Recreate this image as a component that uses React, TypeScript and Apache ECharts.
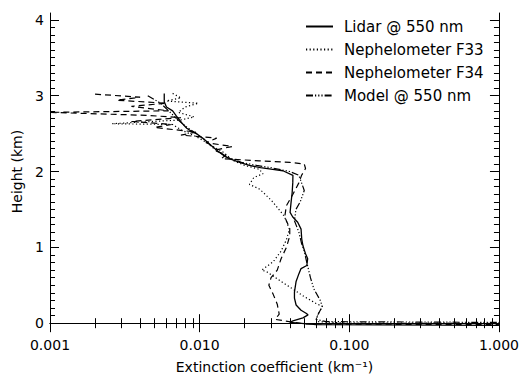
import React, { useEffect, useRef } from "react";
import * as echarts from "echarts";

// Heights (km) and extinction coefficients (km^-1)
const lidarH = [3.03, 2.92, 2.85, 2.80, 2.73, 2.64, 2.57, 2.53, 2.50, 2.42, 2.34, 2.27, 2.20, 2.16, 2.12, 2.08, 2.05, 2.03, 2.01, 1.95, 1.85, 1.72, 1.59, 1.46, 1.40, 1.33, 1.24, 1.11, 1.02, 0.92, 0.85, 0.76, 0.72, 0.65, 0.55, 0.41, 0.33, 0.24, 0.17, 0.13, 0.11, 0.07, 0.03, 0.01, -0.02, -0.03];
const lidarX = [0.0058, 0.0058, 0.0060, 0.0066, 0.0070, 0.0076, 0.0082, 0.0088, 0.0095, 0.0108, 0.0120, 0.0132, 0.0147, 0.0163, 0.0185, 0.0215, 0.0255, 0.030, 0.036, 0.042, 0.0419, 0.0415, 0.0408, 0.0402, 0.0419, 0.0452, 0.0476, 0.0481, 0.049, 0.0509, 0.0527, 0.052, 0.0476, 0.046, 0.0441, 0.043, 0.043, 0.0441, 0.0476, 0.0514, 0.053, 0.049, 0.042, 0.040, 0.06, 1.0];

const f33H = [3.03, 2.97, 2.93, 2.90, 2.85, 2.78, 2.72, 2.68, 2.63, 2.62, 2.55, 2.45, 2.35, 2.25, 2.15, 2.08, 2.03, 1.97, 1.92, 1.83, 1.77, 1.73, 1.60, 1.41, 1.24, 1.10, 0.95, 0.81, 0.70, 0.68, 0.55, 0.45, 0.35, 0.26, 0.22, 0.12, 0.05, 0.02, 0.0, 0.0];
const f33X = [0.0066, 0.0075, 0.0060, 0.0098, 0.0080, 0.0072, 0.0092, 0.0075, 0.0026, 0.0066, 0.0075, 0.0097, 0.0118, 0.0145, 0.0165, 0.0200, 0.0250, 0.0265, 0.0230, 0.0215, 0.0250, 0.0264, 0.0308, 0.0368, 0.0398, 0.038, 0.035, 0.031, 0.026, 0.028, 0.035, 0.042, 0.050, 0.060, 0.066, 0.062, 0.060, 0.062, 0.1, 1.0];

const f34H = [3.02, 2.98, 2.94, 2.90, 2.86, 2.80, 2.78, 2.74, 2.71, 2.66, 2.62, 2.58, 2.52, 2.48, 2.44, 2.38, 2.33, 2.28, 2.22, 2.17, 2.14, 2.12, 2.10, 2.04, 1.95, 1.85, 1.70, 1.55, 1.40, 1.25, 1.15, 1.00, 0.85, 0.70, 0.60, 0.50, 0.38, 0.25, 0.12, 0.05, -0.01, -0.02];
const f34X = [0.0020, 0.0040, 0.0028, 0.0060, 0.0035, 0.0062, 0.0010, 0.0045, 0.0075, 0.0035, 0.0065, 0.0050, 0.0095, 0.0075, 0.0130, 0.0110, 0.0165, 0.0125, 0.0150, 0.0140, 0.0250, 0.0400, 0.0500, 0.0510, 0.0480, 0.0460, 0.0420, 0.0380, 0.0370, 0.0400, 0.0400, 0.0380, 0.0350, 0.0330, 0.0300, 0.0290, 0.0310, 0.0330, 0.0340, 0.0320, 0.05, 1.0];

const modelH = [3.0, 2.9, 2.8, 2.7, 2.6, 2.5, 2.4, 2.3, 2.2, 2.12, 2.08, 2.05, 2.0, 1.95, 1.85, 1.75, 1.6, 1.5, 1.35, 1.2, 1.05, 0.95, 0.8, 0.6, 0.45, 0.3, 0.22, 0.12, 0.05, 0.02, 0.01];
const modelX = [0.0045, 0.0055, 0.0062, 0.0070, 0.0080, 0.0095, 0.0110, 0.0125, 0.0150, 0.019, 0.024, 0.030, 0.040, 0.046, 0.048, 0.050, 0.047, 0.044, 0.043, 0.046, 0.048, 0.050, 0.052, 0.055, 0.058, 0.064, 0.066, 0.062, 0.060, 0.070, 1.0];

const seriesNames = ["Lidar @ 550 nm", "Nephelometer F33", "Nephelometer F34", "Model @ 550 nm"];
const xMajorTicks = [0.001, 0.01, 0.1, 1];
const xMinorTicks = [0.002, 0.003, 0.004, 0.005, 0.006, 0.007, 0.008, 0.009, 0.02, 0.03, 0.04, 0.05, 0.06, 0.07, 0.08, 0.09, 0.2, 0.3, 0.4, 0.5, 0.6, 0.7, 0.8, 0.9];
const yMajorTicks = [0, 1, 2, 3, 4];
const yMinorTicks = [0.1, 0.2, 0.3, 0.4, 0.5, 0.6, 0.7, 0.8, 0.9, 1.1, 1.2, 1.3, 1.4, 1.5, 1.6, 1.7, 1.8, 1.9, 2.1, 2.2, 2.3, 2.4, 2.5, 2.6, 2.7, 2.8, 2.9, 3.1, 3.2, 3.3, 3.4, 3.5, 3.6, 3.7, 3.8, 3.9];

const FONT = "DejaVu Sans";

function pairs(xs: number[], hs: number[]) {
  return xs.map((x, i) => [x, hs[i]]);
}

export default function App() {
  const ref = useRef<HTMLDivElement>(null);
  useEffect(() => {
    if (!ref.current) return;
    const chart = echarts.init(ref.current, null, { renderer: "svg" });
    const axLine = { show: true, lineStyle: { color: "#000", width: 1 } };
    const xBase = (pos: string, ticks: number[], len: number, labels: boolean, line: boolean, extra: any = {}) => ({
      type: "log",
      logBase: 10,
      min: 0.001,
      max: 1,
      position: pos,
      axisLine: line ? axLine : { show: false },
      splitLine: { show: false },
      minorTick: { show: false },
      axisTick: { show: true, inside: true, length: len, customValues: ticks, lineStyle: { color: "#000", width: 1 } },
      axisLabel: labels
        ? { show: true, customValues: xMajorTicks, margin: 8, color: "#000", fontFamily: FONT, fontSize: 14, formatter: (v: number) => v.toFixed(3) }
        : { show: false },
      ...extra,
    });
    const yBase = (pos: string, ticks: number[], len: number, labels: boolean, line: boolean, extra: any = {}) => ({
      type: "value",
      min: -0.09,
      max: 4.09,
      position: pos,
      axisLine: line ? axLine : { show: false },
      splitLine: { show: false },
      minorTick: { show: false },
      axisTick: { show: true, inside: true, length: len, customValues: ticks, lineStyle: { color: "#000", width: 1 } },
      axisLabel: labels
        ? { show: true, customValues: yMajorTicks, margin: 6, color: "#000", fontFamily: FONT, fontSize: 14, formatter: (v: number) => String(Math.round(v)) }
        : { show: false },
      ...extra,
    });
    const lineSeries = (name: string, data: number[][], type: any, width: number) => ({
      name,
      type: "line",
      data,
      xAxisIndex: 0,
      yAxisIndex: 0,
      showSymbol: false,
      symbol: "none",
      clip: true,
      lineStyle: { color: "#000", width, type },
      itemStyle: { color: "#000" },
    });
    chart.setOption({
      animation: false,
      backgroundColor: "#fff",
      grid: { left: 50, right: 22, top: 13, bottom: 47 },
      legend: {
        orient: "vertical",
        left: 305,
        top: 19,
        padding: 0,
        itemWidth: 27,
        itemHeight: 12,
        itemGap: 8,
        data: seriesNames,
        itemStyle: { opacity: 0 },
        textStyle: { color: "#000", fontFamily: FONT, fontSize: 15, padding: [0, 0, 0, 6] },
      },
      xAxis: [
        xBase("bottom", xMajorTicks, 9, true, true, {
          name: "Extinction coefficient (km⁻¹)",
          nameLocation: "middle",
          nameGap: 30,
          nameTextStyle: { color: "#000", fontFamily: FONT, fontSize: 14 },
        }),
        xBase("bottom", xMinorTicks, 5, false, false),
        xBase("top", xMajorTicks, 9, false, true),
        xBase("top", xMinorTicks, 5, false, false),
      ],
      yAxis: [
        yBase("left", yMajorTicks, 9, true, true, {
          name: "Height (km)",
          nameLocation: "middle",
          nameGap: 24,
          nameRotate: 90,
          nameTextStyle: { color: "#000", fontFamily: FONT, fontSize: 14 },
        }),
        yBase("left", yMinorTicks, 5, false, false),
        yBase("right", yMajorTicks, 9, false, true),
        yBase("right", yMinorTicks, 5, false, false),
      ],
      series: [
        lineSeries(seriesNames[0], pairs(lidarX, lidarH), "solid", 1.3),
        lineSeries(seriesNames[1], pairs(f33X, f33H), [1.2, 2.4], 1.2),
        lineSeries(seriesNames[2], pairs(f34X, f34H), [6, 4], 1.2),
        lineSeries(seriesNames[3], pairs(modelX, modelH), [7, 2, 1.2, 2, 1.2, 2, 1.2, 2], 1.2),
      ],
    });
    return () => chart.dispose();
  }, []);
  return <div ref={ref} style={{ position: "absolute", left: 0, top: 0, width: 522, height: 379 }} />;
}
